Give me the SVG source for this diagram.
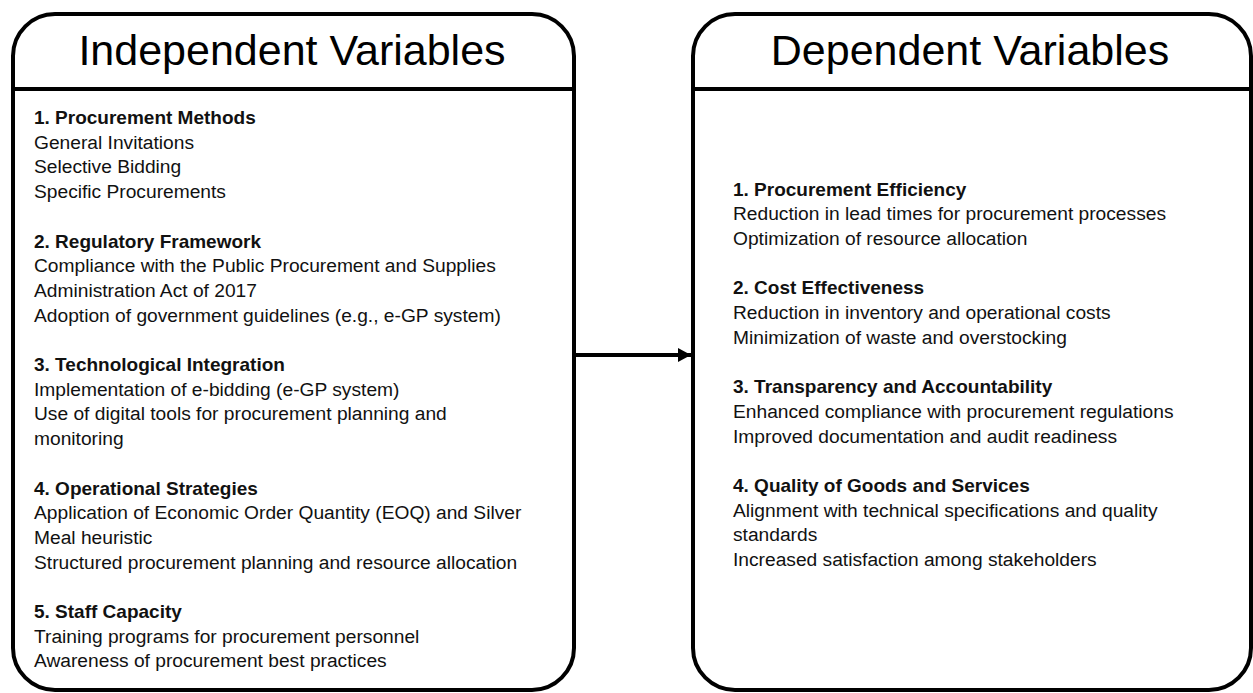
<svg xmlns="http://www.w3.org/2000/svg" width="1253" height="693" viewBox="0 0 1253 693">
  <style>
    .box { fill: #ffffff; stroke: #000000; stroke-width: 4; }
    .rule { stroke: #000000; stroke-width: 4; }
    .title { font-family: "Liberation Sans", Arial, sans-serif; font-size: 43px; fill: #000000; text-anchor: middle; }
    .body { font-family: "Liberation Sans", Arial, sans-serif; font-size: 19.2px; fill: #111111; }
    .head { font-weight: bold; font-size: 19px; }
    .conn { stroke: #000000; stroke-width: 4; fill: none; }
  </style>
  <defs>
    <marker id="arrowhead" markerWidth="14" markerHeight="14" refX="13" refY="7" orient="auto" markerUnits="userSpaceOnUse">
      <path d="M0,0 L13,7 L0,14 Z" fill="#000000"/>
    </marker>
  </defs>

  <rect width="1253" height="693" fill="#ffffff"/>

  <!-- Independent variables panel -->
  <g id="independent">
    <rect class="box" x="13" y="14" width="561" height="676" rx="42" ry="42"/>
    <line class="rule" x1="13" y1="89" x2="574" y2="89"/>
    <text class="title" x="292" y="65">Independent Variables</text>
    <g class="body">
      <text class="head" x="34" y="124">1. Procurement Methods</text>
      <text x="34" y="148.7">General Invitations</text>
      <text x="34" y="173.4">Selective Bidding</text>
      <text x="34" y="198.1">Specific Procurements</text>

      <text class="head" x="34" y="247.5">2. Regulatory Framework</text>
      <text x="34" y="272.2">Compliance with the Public Procurement and Supplies</text>
      <text x="34" y="296.9">Administration Act of 2017</text>
      <text x="34" y="321.6">Adoption of government guidelines (e.g., e-GP system)</text>

      <text class="head" x="34" y="371">3. Technological Integration</text>
      <text x="34" y="395.7">Implementation of e-bidding (e-GP system)</text>
      <text x="34" y="420.4">Use of digital tools for procurement planning and</text>
      <text x="34" y="445.1">monitoring</text>

      <text class="head" x="34" y="494.5">4. Operational Strategies</text>
      <text x="34" y="519.2">Application of Economic Order Quantity (EOQ) and Silver</text>
      <text x="34" y="543.9">Meal heuristic</text>
      <text x="34" y="568.6">Structured procurement planning and resource allocation</text>

      <text class="head" x="34" y="618">5. Staff Capacity</text>
      <text x="34" y="642.7">Training programs for procurement personnel</text>
      <text x="34" y="667.4">Awareness of procurement best practices</text>
    </g>
  </g>

  <!-- Dependent variables panel -->
  <g id="dependent">
    <rect class="box" x="693" y="14" width="558" height="676" rx="42" ry="42"/>
    <line class="rule" x1="693" y1="89" x2="1251" y2="89"/>
    <text class="title" x="970" y="65">Dependent Variables</text>
    <g class="body">
      <text class="head" x="733" y="195.5">1. Procurement Efficiency</text>
      <text x="733" y="220.2">Reduction in lead times for procurement processes</text>
      <text x="733" y="244.9">Optimization of resource allocation</text>

      <text class="head" x="733" y="294.3">2. Cost Effectiveness</text>
      <text x="733" y="319">Reduction in inventory and operational costs</text>
      <text x="733" y="343.7">Minimization of waste and overstocking</text>

      <text class="head" x="733" y="393.1">3. Transparency and Accountability</text>
      <text x="733" y="417.8">Enhanced compliance with procurement regulations</text>
      <text x="733" y="442.5">Improved documentation and audit readiness</text>

      <text class="head" x="733" y="491.9">4. Quality of Goods and Services</text>
      <text x="733" y="516.6">Alignment with technical specifications and quality</text>
      <text x="733" y="541.3">standards</text>
      <text x="733" y="566">Increased satisfaction among stakeholders</text>
    </g>
  </g>

  <!-- Connector -->
  <g id="connectors">
    <line class="conn" x1="574" y1="355" x2="691" y2="355" marker-end="url(#arrowhead)"/>
  </g>
</svg>
